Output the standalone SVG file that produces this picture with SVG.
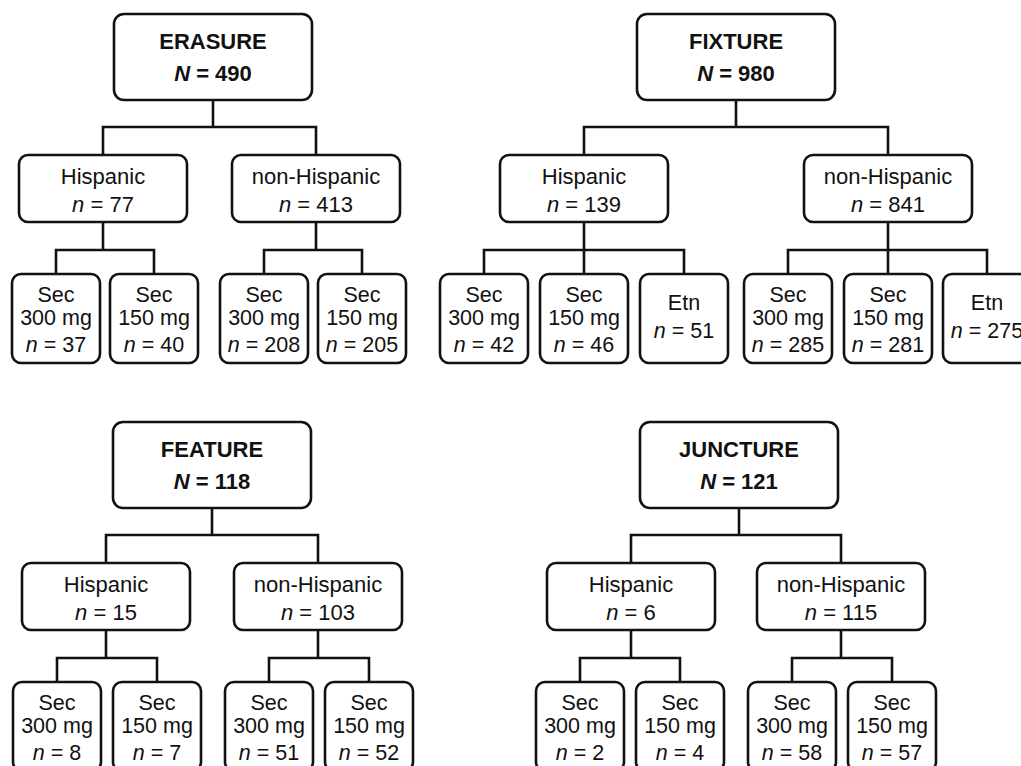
<svg xmlns="http://www.w3.org/2000/svg" width="1021" height="766" viewBox="0 0 1021 766">
<style>
.box{fill:#fff;stroke:#111;stroke-width:2.6}
.con{fill:none;stroke:#111;stroke-width:2.6;stroke-linejoin:miter}
text{font-family:"Liberation Sans",Arial,sans-serif;fill:#111;text-anchor:middle}
.hd{font-size:22px;font-weight:bold}
.md{font-size:22px}
.lf{font-size:21.5px}
.i{font-style:italic}
</style>
<rect width="1021" height="766" fill="#fff"/>
<g id="connectors">
<path class="con" d="M213,100 V127 M103,155 V127 H316 V155"/>
<path class="con" d="M103,222 V250 M56,274 V250 H154 V274"/>
<path class="con" d="M316,222 V250 M264,274 V250 H362 V274"/>
<path class="con" d="M736,100 V127 M584,155 V127 H888 V155"/>
<path class="con" d="M584,222 V250 M484,274 V250 H684 V274 M584,250 V274"/>
<path class="con" d="M888,222 V250 M788,274 V250 H987 V274 M888,250 V274"/>
<path class="con" d="M212,508 V535 M106,563 V535 H318 V563"/>
<path class="con" d="M106,630 V658 M57,682 V658 H157 V682"/>
<path class="con" d="M318,630 V658 M269,682 V658 H369 V682"/>
<path class="con" d="M739,508 V535 M631,563 V535 H841 V563"/>
<path class="con" d="M631,630 V658 M580,682 V658 H680 V682"/>
<path class="con" d="M841,630 V658 M792,682 V658 H892 V682"/>
</g>
<!-- ERASURE -->
<g id="erasure"><rect class="box" x="114" y="14" width="198" height="86" rx="10"/><text class="hd" x="213" y="49">ERASURE</text><text class="hd" x="213" y="81"><tspan class="i">N</tspan> = 490</text></g>
<g id="erasure-hisp"><rect class="box" x="19" y="155" width="168" height="67" rx="9"/><text class="md" x="103" y="184">Hispanic</text><text class="md" x="103" y="212"><tspan class="i">n</tspan> = 77</text></g>
<g id="erasure-nonhisp"><rect class="box" x="232" y="155" width="168" height="67" rx="9"/><text class="md" x="316" y="184">non-Hispanic</text><text class="md" x="316" y="212"><tspan class="i">n</tspan> = 413</text></g>
<g id="erasure-h300"><rect class="box" x="12" y="274" width="88" height="89" rx="9"/><text class="lf" x="56" y="302">Sec</text><text class="lf" x="56" y="325">300 mg</text><text class="lf" x="56" y="352"><tspan class="i">n</tspan> = 37</text></g>
<g id="erasure-h150"><rect class="box" x="110" y="274" width="88" height="89" rx="9"/><text class="lf" x="154" y="302">Sec</text><text class="lf" x="154" y="325">150 mg</text><text class="lf" x="154" y="352"><tspan class="i">n</tspan> = 40</text></g>
<g id="erasure-n300"><rect class="box" x="220" y="274" width="88" height="89" rx="9"/><text class="lf" x="264" y="302">Sec</text><text class="lf" x="264" y="325">300 mg</text><text class="lf" x="264" y="352"><tspan class="i">n</tspan> = 208</text></g>
<g id="erasure-n150"><rect class="box" x="318" y="274" width="88" height="89" rx="9"/><text class="lf" x="362" y="302">Sec</text><text class="lf" x="362" y="325">150 mg</text><text class="lf" x="362" y="352"><tspan class="i">n</tspan> = 205</text></g>
<!-- FIXTURE -->
<g id="fixture"><rect class="box" x="637" y="14" width="198" height="86" rx="10"/><text class="hd" x="736" y="49">FIXTURE</text><text class="hd" x="736" y="81"><tspan class="i">N</tspan> = 980</text></g>
<g id="fixture-hisp"><rect class="box" x="500" y="155" width="168" height="67" rx="9"/><text class="md" x="584" y="184">Hispanic</text><text class="md" x="584" y="212"><tspan class="i">n</tspan> = 139</text></g>
<g id="fixture-nonhisp"><rect class="box" x="804" y="155" width="168" height="67" rx="9"/><text class="md" x="888" y="184">non-Hispanic</text><text class="md" x="888" y="212"><tspan class="i">n</tspan> = 841</text></g>
<g id="fixture-h300"><rect class="box" x="440" y="274" width="88" height="89" rx="9"/><text class="lf" x="484" y="302">Sec</text><text class="lf" x="484" y="325">300 mg</text><text class="lf" x="484" y="352"><tspan class="i">n</tspan> = 42</text></g>
<g id="fixture-h150"><rect class="box" x="540" y="274" width="88" height="89" rx="9"/><text class="lf" x="584" y="302">Sec</text><text class="lf" x="584" y="325">150 mg</text><text class="lf" x="584" y="352"><tspan class="i">n</tspan> = 46</text></g>
<g id="fixture-hetn"><rect class="box" x="640" y="274" width="88" height="89" rx="9"/><text class="lf" x="684" y="310">Etn</text><text class="lf" x="684" y="338"><tspan class="i">n</tspan> = 51</text></g>
<g id="fixture-n300"><rect class="box" x="744" y="274" width="88" height="89" rx="9"/><text class="lf" x="788" y="302">Sec</text><text class="lf" x="788" y="325">300 mg</text><text class="lf" x="788" y="352"><tspan class="i">n</tspan> = 285</text></g>
<g id="fixture-n150"><rect class="box" x="844" y="274" width="88" height="89" rx="9"/><text class="lf" x="888" y="302">Sec</text><text class="lf" x="888" y="325">150 mg</text><text class="lf" x="888" y="352"><tspan class="i">n</tspan> = 281</text></g>
<g id="fixture-netn"><rect class="box" x="943" y="274" width="88" height="89" rx="9"/><text class="lf" x="987" y="310">Etn</text><text class="lf" x="987" y="338"><tspan class="i">n</tspan> = 275</text></g>
<!-- FEATURE -->
<g id="feature"><rect class="box" x="113" y="422" width="198" height="86" rx="10"/><text class="hd" x="212" y="457">FEATURE</text><text class="hd" x="212" y="489"><tspan class="i">N</tspan> = 118</text></g>
<g id="feature-hisp"><rect class="box" x="22" y="563" width="168" height="67" rx="9"/><text class="md" x="106" y="592">Hispanic</text><text class="md" x="106" y="620"><tspan class="i">n</tspan> = 15</text></g>
<g id="feature-nonhisp"><rect class="box" x="234" y="563" width="168" height="67" rx="9"/><text class="md" x="318" y="592">non-Hispanic</text><text class="md" x="318" y="620"><tspan class="i">n</tspan> = 103</text></g>
<g id="feature-h300"><rect class="box" x="13" y="682" width="88" height="89" rx="9"/><text class="lf" x="57" y="710">Sec</text><text class="lf" x="57" y="733">300 mg</text><text class="lf" x="57" y="760"><tspan class="i">n</tspan> = 8</text></g>
<g id="feature-h150"><rect class="box" x="113" y="682" width="88" height="89" rx="9"/><text class="lf" x="157" y="710">Sec</text><text class="lf" x="157" y="733">150 mg</text><text class="lf" x="157" y="760"><tspan class="i">n</tspan> = 7</text></g>
<g id="feature-n300"><rect class="box" x="225" y="682" width="88" height="89" rx="9"/><text class="lf" x="269" y="710">Sec</text><text class="lf" x="269" y="733">300 mg</text><text class="lf" x="269" y="760"><tspan class="i">n</tspan> = 51</text></g>
<g id="feature-n150"><rect class="box" x="325" y="682" width="88" height="89" rx="9"/><text class="lf" x="369" y="710">Sec</text><text class="lf" x="369" y="733">150 mg</text><text class="lf" x="369" y="760"><tspan class="i">n</tspan> = 52</text></g>
<!-- JUNCTURE -->
<g id="juncture"><rect class="box" x="640" y="422" width="198" height="86" rx="10"/><text class="hd" x="739" y="457">JUNCTURE</text><text class="hd" x="739" y="489"><tspan class="i">N</tspan> = 121</text></g>
<g id="juncture-hisp"><rect class="box" x="547" y="563" width="168" height="67" rx="9"/><text class="md" x="631" y="592">Hispanic</text><text class="md" x="631" y="620"><tspan class="i">n</tspan> = 6</text></g>
<g id="juncture-nonhisp"><rect class="box" x="757" y="563" width="168" height="67" rx="9"/><text class="md" x="841" y="592">non-Hispanic</text><text class="md" x="841" y="620"><tspan class="i">n</tspan> = 115</text></g>
<g id="juncture-h300"><rect class="box" x="536" y="682" width="88" height="89" rx="9"/><text class="lf" x="580" y="710">Sec</text><text class="lf" x="580" y="733">300 mg</text><text class="lf" x="580" y="760"><tspan class="i">n</tspan> = 2</text></g>
<g id="juncture-h150"><rect class="box" x="636" y="682" width="88" height="89" rx="9"/><text class="lf" x="680" y="710">Sec</text><text class="lf" x="680" y="733">150 mg</text><text class="lf" x="680" y="760"><tspan class="i">n</tspan> = 4</text></g>
<g id="juncture-n300"><rect class="box" x="748" y="682" width="88" height="89" rx="9"/><text class="lf" x="792" y="710">Sec</text><text class="lf" x="792" y="733">300 mg</text><text class="lf" x="792" y="760"><tspan class="i">n</tspan> = 58</text></g>
<g id="juncture-n150"><rect class="box" x="848" y="682" width="88" height="89" rx="9"/><text class="lf" x="892" y="710">Sec</text><text class="lf" x="892" y="733">150 mg</text><text class="lf" x="892" y="760"><tspan class="i">n</tspan> = 57</text></g>
</svg>
